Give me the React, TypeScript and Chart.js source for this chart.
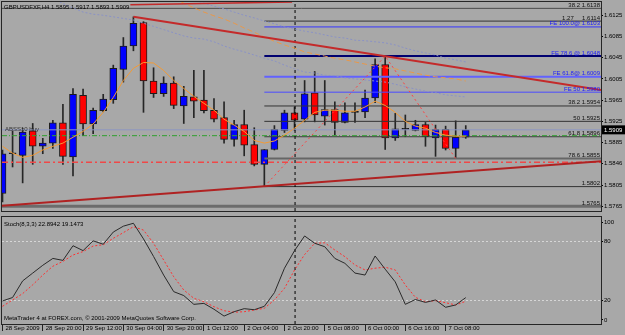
import React, { useEffect, useRef } from "react";
import { Chart, registerables } from "chart.js";

Chart.register(...registerables);

// ---------------- data ----------------
const SYMBOL = "GBPUSDFXF,H4";

const OPEN = [1.5789, 1.5864, 1.5861, 1.5907, 1.5878, 1.5884, 1.5922, 1.5858, 1.5974, 1.5920, 1.5945, 1.5966, 1.6023, 1.6067, 1.6111, 1.6001, 1.5977, 1.5997, 1.5954, 1.5971, 1.5965, 1.5946, 1.5932, 1.5891, 1.5919, 1.5881, 1.5844, 1.5872, 1.5908, 1.5941, 1.5929, 1.5979, 1.5935, 1.5947, 1.5923, 1.5942, 1.5943, 1.5969, 1.6032, 1.5894, 1.5910, 1.5908, 1.5919, 1.5894, 1.5910, 1.5874, 1.5895];
const HIGH = [1.5871, 1.5907, 1.5912, 1.5921, 1.5893, 1.5927, 1.5957, 1.5987, 1.5986, 1.5950, 1.5976, 1.6031, 1.6083, 1.6122, 1.6113, 1.6026, 1.6009, 1.6009, 1.5991, 1.6021, 1.6021, 1.5968, 1.5962, 1.5927, 1.5946, 1.5913, 1.5872, 1.5917, 1.5946, 1.5952, 1.6002, 1.6019, 1.6002, 1.5962, 1.5960, 1.5960, 1.5984, 1.6043, 1.6048, 1.5940, 1.5937, 1.5927, 1.5923, 1.5918, 1.5916, 1.5926, 1.5917];
const LOW = [1.5773, 1.5839, 1.5809, 1.5844, 1.5864, 1.5874, 1.5844, 1.5822, 1.5898, 1.5902, 1.5943, 1.5959, 1.5999, 1.6058, 1.5942, 1.5970, 1.5972, 1.5949, 1.5921, 1.5932, 1.5941, 1.5924, 1.5884, 1.5878, 1.5860, 1.5841, 1.5802, 1.5871, 1.5904, 1.5908, 1.5924, 1.5924, 1.5918, 1.5900, 1.5922, 1.5923, 1.5932, 1.5960, 1.5872, 1.5889, 1.5896, 1.5907, 1.5878, 1.5859, 1.5871, 1.5855, 1.5893];
const CLOSE = [1.5864, 1.5864, 1.5905, 1.5878, 1.5884, 1.5922, 1.5859, 1.5976, 1.5920, 1.5946, 1.5967, 1.6025, 1.6067, 1.6110, 1.6001, 1.5977, 1.5997, 1.5955, 1.5972, 1.5963, 1.5945, 1.5929, 1.5891, 1.5919, 1.5880, 1.5844, 1.5872, 1.5910, 1.5941, 1.5927, 1.5977, 1.5937, 1.5947, 1.5923, 1.5941, 1.5942, 1.5969, 1.6032, 1.5894, 1.5911, 1.5910, 1.5919, 1.5896, 1.5910, 1.5874, 1.5895, 1.5909];

// fast moving average (orange solid), one value per bar
const MA_FAST = [1.5878, 1.5865, 1.5857, 1.5861, 1.5871, 1.5878, 1.5884, 1.5895, 1.5906, 1.5920, 1.5942, 1.5970, 1.6002, 1.6025, 1.6036, 1.6035, 1.6021, 1.6002, 1.5987, 1.5972, 1.5959, 1.5946, 1.5929, 1.5918, 1.5906, 1.5889, 1.5884, 1.5888, 1.5899, 1.5912, 1.5927, 1.5942, 1.5946, 1.5946, 1.5944, 1.5944, 1.5952, 1.5963, 1.5955, 1.5942, 1.5925, 1.5916, 1.5912, 1.5904, 1.5899, 1.5897, 1.5897];
// slow moving average (orange dashed), starts at bar 17
const MA_SLOW_START = 17;
const MA_SLOW = [1.6156, 1.6148, 1.6139, 1.6131, 1.6124, 1.6118, 1.6110, 1.6101, 1.6093, 1.6084, 1.6076, 1.6069, 1.6063, 1.6056, 1.6052, 1.6048, 1.6044, 1.6041, 1.6037, 1.6033, 1.6029, 1.6026, 1.6024, 1.6020, 1.6016, 1.6012, 1.6009, 1.6007, 1.6005, 1.6001];
// two bluish dotted averages
const MA_UPPER_START = 18;
const MA_UPPER = [1.6159, 1.6154, 1.6148, 1.6142, 1.6137, 1.6131, 1.6125, 1.6120, 1.6114, 1.6109, 1.6103, 1.6099, 1.6095, 1.6092, 1.6088, 1.6084, 1.6082, 1.6078, 1.6077, 1.6075, 1.6073, 1.6069, 1.6063, 1.6058, 1.6054, 1.6050, 1.6044, 1.6041, 1.6037];
const MA_LOWER_START = 5;
const MA_LOWER = [1.6158, 1.6147, 1.6139, 1.6131, 1.6127, 1.6125, 1.6122, 1.6119, 1.6116, 1.6110, 1.6104, 1.6098, 1.6092, 1.6086, 1.6082, 1.6080, 1.6075, 1.6067, 1.6061, 1.6056, 1.6050, 1.6044, 1.6039, 1.6031, 1.6024, 1.6018, 1.6016, 1.6012, 1.6011, 1.6007, 1.6005, 1.6003, 1.6001, 1.5999, 1.5995, 1.5990, 1.5986, 1.5982, 1.5979, 1.5975, 1.5973, 1.5971];

const STOCH_MAIN = [19.5, 23, 40, 48, 56, 63, 61, 76, 71, 81, 77.5, 90, 96, 99, 83, 65, 46, 29, 25, 16, 17, 11, 4, 8.5, 11.6, 10.5, 14, 28, 53, 71, 86, 78.5, 75, 63, 58, 48, 46, 65.5, 52, 39, 16, 21, 18, 20.5, 13, 15.4, 22.9];
const STOCH_SIGNAL = [14, 20.5, 27, 36, 46, 55, 60, 66.5, 70, 75.7, 77, 83.6, 89.4, 95.5, 92, 78.5, 61.4, 44.3, 30.7, 22.2, 18.7, 13.6, 9.5, 7.9, 8.5, 10.2, 12, 20.5, 32.4, 51.2, 67, 78.5, 79, 71.6, 64.8, 56.3, 51.2, 53, 54, 51.2, 35.8, 23.2, 18.7, 19.8, 17.7, 15.4, 19.1];
const STOCH_TITLE = "Stoch(8,3,3)";
const STOCH_TITLE_VALUES = [22.8942, 19.1473];

const TIME_TICKS = [0, 4, 8, 12, 16, 20, 24, 28, 32, 36, 40, 44];
const TIME_LABELS = ["28 Sep 2009", "28 Sep 20:00", "29 Sep 12:00", "30 Sep 04:00", "30 Sep 20:00", "1 Oct 12:00", "2 Oct 04:00", "2 Oct 20:00", "5 Oct 08:00", "6 Oct 00:00", "6 Oct 16:00", "7 Oct 08:00"];

const PRICE_TICKS = [1.6125, 1.6085, 1.6045, 1.6005, 1.5965, 1.5925, 1.5885, 1.5845, 1.5805, 1.5765];
const PRICE_TICK_LABELS = ["1.6125", "1.6085", "1.6045", "1.6005", "1.5965", "1.5925", "1.5885", "1.5846", "1.5805", "1.5765"];
const STOCH_TICKS = [0, 20, 80, 100];
const STOCH_LEVELS = [20, 80];

// drawn objects
const FIB_LEVELS = [1.6138, 1.6114, 1.5954, 1.5925, 1.5896, 1.5855, 1.5802, 1.5765];
const FIB_TEXTS = ["38.2 1.6138", "1.27     1.6114", "38.2 1.5954", "50 1.5925", "61.8 1.5896", "78.6 1.5855", "1.5802", "1.5765"];
const FIB_FROM_BAR = [null, 26, 26, 26, 26, 26, 26, null];
const FE_LEVELS = [1.6103, 1.6048, 1.6009, 1.5980];
const FE_TEXTS = ["FE 100.0@ 1.6103", "FE 78.6 @ 1.6048", "FE 61.8@ 1.6009", "FE 50 1.5980"];
const FE_FROM_BAR = 26;
const BID_LINE = 1.5909;
const GREEN_LINE = 1.5898;
const RED_LINE = 1.5848;
const OBJECT_LABEL = "ABSS10 buy";
const TREND_DOWN = [{ x: 13, y: 1.6122 }, { x: 59.43, y: 1.5984 }];
const TREND_UP = [{ x: -0.05, y: 1.5766 }, { x: 59.43, y: 1.5850 }];
const TREND_TOP = [{ x: 12.7, y: 1.6145 }, { x: 28.75, y: 1.6150 }];
const FE_PATH = [{ x: 26, y: 1.5802 }, { x: 38, y: 1.6048 }, { x: 45, y: 1.5855 }];
const WEEK_SEPARATOR_BAR = 29.05;
const COPYRIGHT = "MetaTrader 4 at FOREX.com, \u00A9 2001-2009 MetaQuotes Software Corp.";

// ---------------- view config ----------------
const X_MIN = -0.05;
const X_MAX = 59.43;
const Y_MIN = 1.5756;
const Y_MAX = 1.615;
const S_MIN = -4.1;
const S_MAX = 105.4;
const BG = "#a8a8a8";
const FF = '"Liberation Sans", Arial, sans-serif';
const FONT_PX = 6;
const FONT = { family: FF, size: FONT_PX };
const CSS_FONT = `${FONT_PX}px ${FF}`;

const FIB_STYLE = [
  { c: "#4a4a4a", w: 1 }, { c: "#333333", w: 1 }, { c: "#333333", w: 1 }, { c: "#333333", w: 1 },
  { c: "#3c3c3c", w: 1 }, { c: "#666666", w: 2 }, { c: "#333333", w: 1 }, { c: "#6c6c6c", w: 3 },
];
const FE_STYLE = [
  { c: "#3434ff", w: 1, t: "#1a1aff" }, { c: "#000070", w: 2, t: "#1a1aff" },
  { c: "#6262ff", w: 2, t: "#1a1aff" }, { c: "#4a4aff", w: 1, t: "#1a1aff" },
];

const idx = OPEN.map((_, i) => i);

function line(data: any[], color: string, width: number, dash: number[] = [], order = 1) {
  return {
    type: "line" as const,
    data,
    borderColor: color,
    borderWidth: width,
    borderDash: dash,
    pointRadius: 0,
    fill: false,
    tension: 0,
    order,
  };
}

const candleColor = (i: number) =>
  CLOSE[i] > OPEN[i] ? "#0000ff" : CLOSE[i] < OPEN[i] ? "#ff0000" : "#111111";

const framePlugin = {
  id: "frame",
  afterDraw(chart: any) {
    const { ctx, chartArea: a } = chart;
    ctx.save();
    ctx.strokeStyle = "#262626";
    ctx.lineWidth = 1;
    ctx.strokeRect(a.left - 0.5, a.top - 0.5, a.right - a.left + 1, a.bottom - a.top + 1);
    ctx.restore();
  },
};

const mainTextPlugin = {
  id: "mainText",
  afterDraw(chart: any) {
    const { ctx, chartArea: a, scales } = chart;
    const y = scales.y;
    const last = CLOSE.length - 1;
    ctx.save();
    ctx.font = CSS_FONT;
    ctx.textBaseline = "alphabetic";
    ctx.textAlign = "right";
    FIB_LEVELS.forEach((lv, i) => {
      ctx.fillStyle = "#111111";
      ctx.fillText(FIB_TEXTS[i], a.right - 1, y.getPixelForValue(lv) - 1.5);
    });
    FE_LEVELS.forEach((lv, i) => {
      ctx.fillStyle = FE_STYLE[i].t;
      ctx.fillText(FE_TEXTS[i], a.right - 1, y.getPixelForValue(lv) - 1.5);
    });
    ctx.textAlign = "left";
    ctx.textBaseline = "middle";
    ctx.fillStyle = "#000000";
    const t = `${SYMBOL} ${OPEN[last].toFixed(4)} ${HIGH[last].toFixed(4)} ${LOW[last].toFixed(4)} ${CLOSE[last].toFixed(4)}`;
    ctx.fillText(t, a.left + 2, a.top + 5.5);
    ctx.fillStyle = "#333333";
    ctx.fillText(OBJECT_LABEL, a.left + 3, y.getPixelForValue(BID_LINE) - 0.5);
    const py = y.getPixelForValue(CLOSE[last]);
    ctx.fillStyle = "#000000";
    ctx.fillRect(a.right + 1, py - 4.5, 23, 9);
    ctx.fillStyle = "#ffffff";
    ctx.fillText(CLOSE[last].toFixed(4), a.right + 3, py + 0.5);
    ctx.restore();
  },
};

const stochTextPlugin = {
  id: "stochText",
  afterDraw(chart: any) {
    const { ctx, chartArea: a } = chart;
    ctx.save();
    ctx.font = CSS_FONT;
    ctx.textAlign = "left";
    ctx.textBaseline = "middle";
    ctx.fillStyle = "#000000";
    ctx.fillText(`${STOCH_TITLE} ${STOCH_TITLE_VALUES[0].toFixed(4)} ${STOCH_TITLE_VALUES[1].toFixed(4)}`, a.left + 2, a.top + 7.5);
    ctx.fillText(COPYRIGHT, a.left + 2, a.bottom - 6);
    ctx.restore();
  },
};

export default function App() {
  const mainRef = useRef<HTMLCanvasElement>(null);
  const stochRef = useRef<HTMLCanvasElement>(null);

  useEffect(() => {
    const full = (lv: number) => [{ x: X_MIN, y: lv }, { x: X_MAX, y: lv }];
    const datasets: any[] = [];

    datasets.push(line(full(BID_LINE), "#8c96c2", 1, [], 3));
    datasets.push(line(full(GREEN_LINE), "#2ea02e", 1, [5, 2, 1, 2], 3));
    datasets.push(line(full(RED_LINE), "#f04848", 1.5, [6, 3, 2, 3], 3));

    FIB_LEVELS.forEach((lv, i) => {
      const from = FIB_FROM_BAR[i] === null ? X_MIN : (FIB_FROM_BAR[i] as number);
      datasets.push(line([{ x: from, y: lv }, { x: X_MAX, y: lv }], FIB_STYLE[i].c, FIB_STYLE[i].w, [], 3));
    });
    FE_LEVELS.forEach((lv, i) => {
      datasets.push(line([{ x: FE_FROM_BAR, y: lv }, { x: X_MAX, y: lv }], FE_STYLE[i].c, FE_STYLE[i].w, [], 3));
    });

    datasets.push(line(TREND_DOWN, "#c42a2a", 2, [], 2));
    datasets.push(line(TREND_UP, "#b02222", 2, [], 2));
    datasets.push(line(TREND_TOP, "#c42a2a", 1.5, [], 2));
    datasets.push(line(FE_PATH, "#ff4040", 1, [2, 3], 2));

    datasets.push(line(MA_LOWER.map((v, i) => ({ x: MA_LOWER_START + i, y: v })), "#8a92c6", 1, [2, 2], 2));
    datasets.push(line(MA_UPPER.map((v, i) => ({ x: MA_UPPER_START + i, y: v })), "#8a92c6", 1, [2, 2], 2));
    datasets.push(line(MA_SLOW.map((v, i) => ({ x: MA_SLOW_START + i, y: v })), "#e8984a", 1, [5, 3], 2));
    datasets.push(line(MA_FAST.map((v, i) => ({ x: i, y: v })), "#f39a34", 1, [], 2));

    datasets.push(line([{ x: WEEK_SEPARATOR_BAR, y: Y_MIN }, { x: WEEK_SEPARATOR_BAR, y: Y_MAX }], "#000000", 1, [3, 3], 2));

    datasets.push({
      type: "bar",
      data: idx.map((i) => ({ x: i, y: [LOW[i], HIGH[i]] })),
      backgroundColor: "#262626",
      borderWidth: 0,
      barThickness: 1,
      grouped: false,
      order: 11,
    });
    datasets.push({
      type: "bar",
      data: idx.map((i) => ({ x: i, y: [OPEN[i], CLOSE[i]] })),
      backgroundColor: idx.map(candleColor),
      borderColor: "#1c1c1c",
      borderWidth: 1,
      borderSkipped: false,
      barThickness: 7,
      minBarLength: 1,
      grouped: false,
      order: 10,
    });

    const main = new Chart(mainRef.current as HTMLCanvasElement, {
      type: "bar",
      data: { datasets },
      options: {
        animation: false,
        responsive: false,
        events: [],
        layout: { padding: { left: 2, top: 2, right: 0, bottom: 3 } },
        plugins: { legend: { display: false }, tooltip: { enabled: false } },
        scales: {
          x: { type: "linear", min: X_MIN, max: X_MAX, display: false, offset: false, grid: { offset: false } },
          y: {
            type: "linear",
            position: "right",
            min: Y_MIN,
            max: Y_MAX,
            afterBuildTicks: (s: any) => {
              s.ticks = PRICE_TICKS.map((v) => ({ value: v }));
            },
            afterFit: (s: any) => {
              s.width = 24;
              s.paddingTop = 0;
              s.paddingBottom = 0;
            },
            ticks: {
              callback: (_v: any, i: number) => PRICE_TICK_LABELS[i],
              font: FONT,
              color: "#000000",
              padding: 1,
              autoSkip: false,
            },
            grid: { drawOnChartArea: false, tickLength: 2, tickColor: "#000000" },
            border: { display: false },
          },
        },
      } as any,
      plugins: [framePlugin, mainTextPlugin],
    } as any);

    const stoch = new Chart(stochRef.current as HTMLCanvasElement, {
      type: "line",
      data: {
        datasets: [
          line([{ x: WEEK_SEPARATOR_BAR, y: S_MIN }, { x: WEEK_SEPARATOR_BAR, y: S_MAX }], "#000000", 1, [3, 3], 3),
          line(STOCH_SIGNAL.map((v, i) => ({ x: i, y: v })), "#ff3030", 1, [2, 2], 2),
          line(STOCH_MAIN.map((v, i) => ({ x: i, y: v })), "#2a2a2a", 1, [], 1),
        ],
      },
      options: {
        animation: false,
        responsive: false,
        events: [],
        layout: { padding: { left: 2, top: 5, right: 0, bottom: 0 } },
        plugins: { legend: { display: false }, tooltip: { enabled: false } },
        scales: {
          x: {
            type: "linear",
            position: "bottom",
            min: X_MIN,
            max: X_MAX,
            offset: false,
            afterBuildTicks: (s: any) => {
              s.ticks = TIME_TICKS.map((v) => ({ value: v }));
            },
            afterFit: (s: any) => {
              s.height = 11;
              s.paddingLeft = 0;
              s.paddingRight = 0;
            },
            ticks: {
              callback: (_v: any, i: number) => TIME_LABELS[i],
              font: FONT,
              color: "#000000",
              align: "start",
              labelOffset: 3,
              padding: -6,
              maxRotation: 0,
              autoSkip: false,
            },
            grid: { drawOnChartArea: false, tickLength: 7, tickColor: "#222222" },
            border: { display: false },
          },
          y: {
            type: "linear",
            position: "right",
            min: S_MIN,
            max: S_MAX,
            afterBuildTicks: (s: any) => {
              s.ticks = STOCH_TICKS.map((v) => ({ value: v }));
            },
            afterFit: (s: any) => {
              s.width = 24;
              s.paddingTop = 0;
              s.paddingBottom = 0;
            },
            ticks: {
              callback: (v: any) => String(v),
              font: FONT,
              color: "#000000",
              padding: 1,
              autoSkip: false,
            },
            grid: {
              drawOnChartArea: true,
              color: (c: any) => (c.tick && STOCH_LEVELS.includes(c.tick.value) ? "#d6d6d6" : "rgba(0,0,0,0)"),
              tickLength: 2,
              tickColor: "#000000",
            },
            border: { display: false, dash: [2, 2] },
          },
        },
      } as any,
      plugins: [framePlugin, stochTextPlugin],
    } as any);

    return () => {
      main.destroy();
      stoch.destroy();
    };
  }, []);

  return (
    <div style={{ position: "fixed", left: 0, top: 0, width: 625, height: 335, background: BG, overflow: "hidden" }}>
      <canvas ref={mainRef} width={625} height={214} style={{ position: "absolute", left: 0, top: 0, width: 625, height: 214 }} />
      <canvas ref={stochRef} width={625} height={123} style={{ position: "absolute", left: 0, top: 212, width: 625, height: 123 }} />
    </div>
  );
}
